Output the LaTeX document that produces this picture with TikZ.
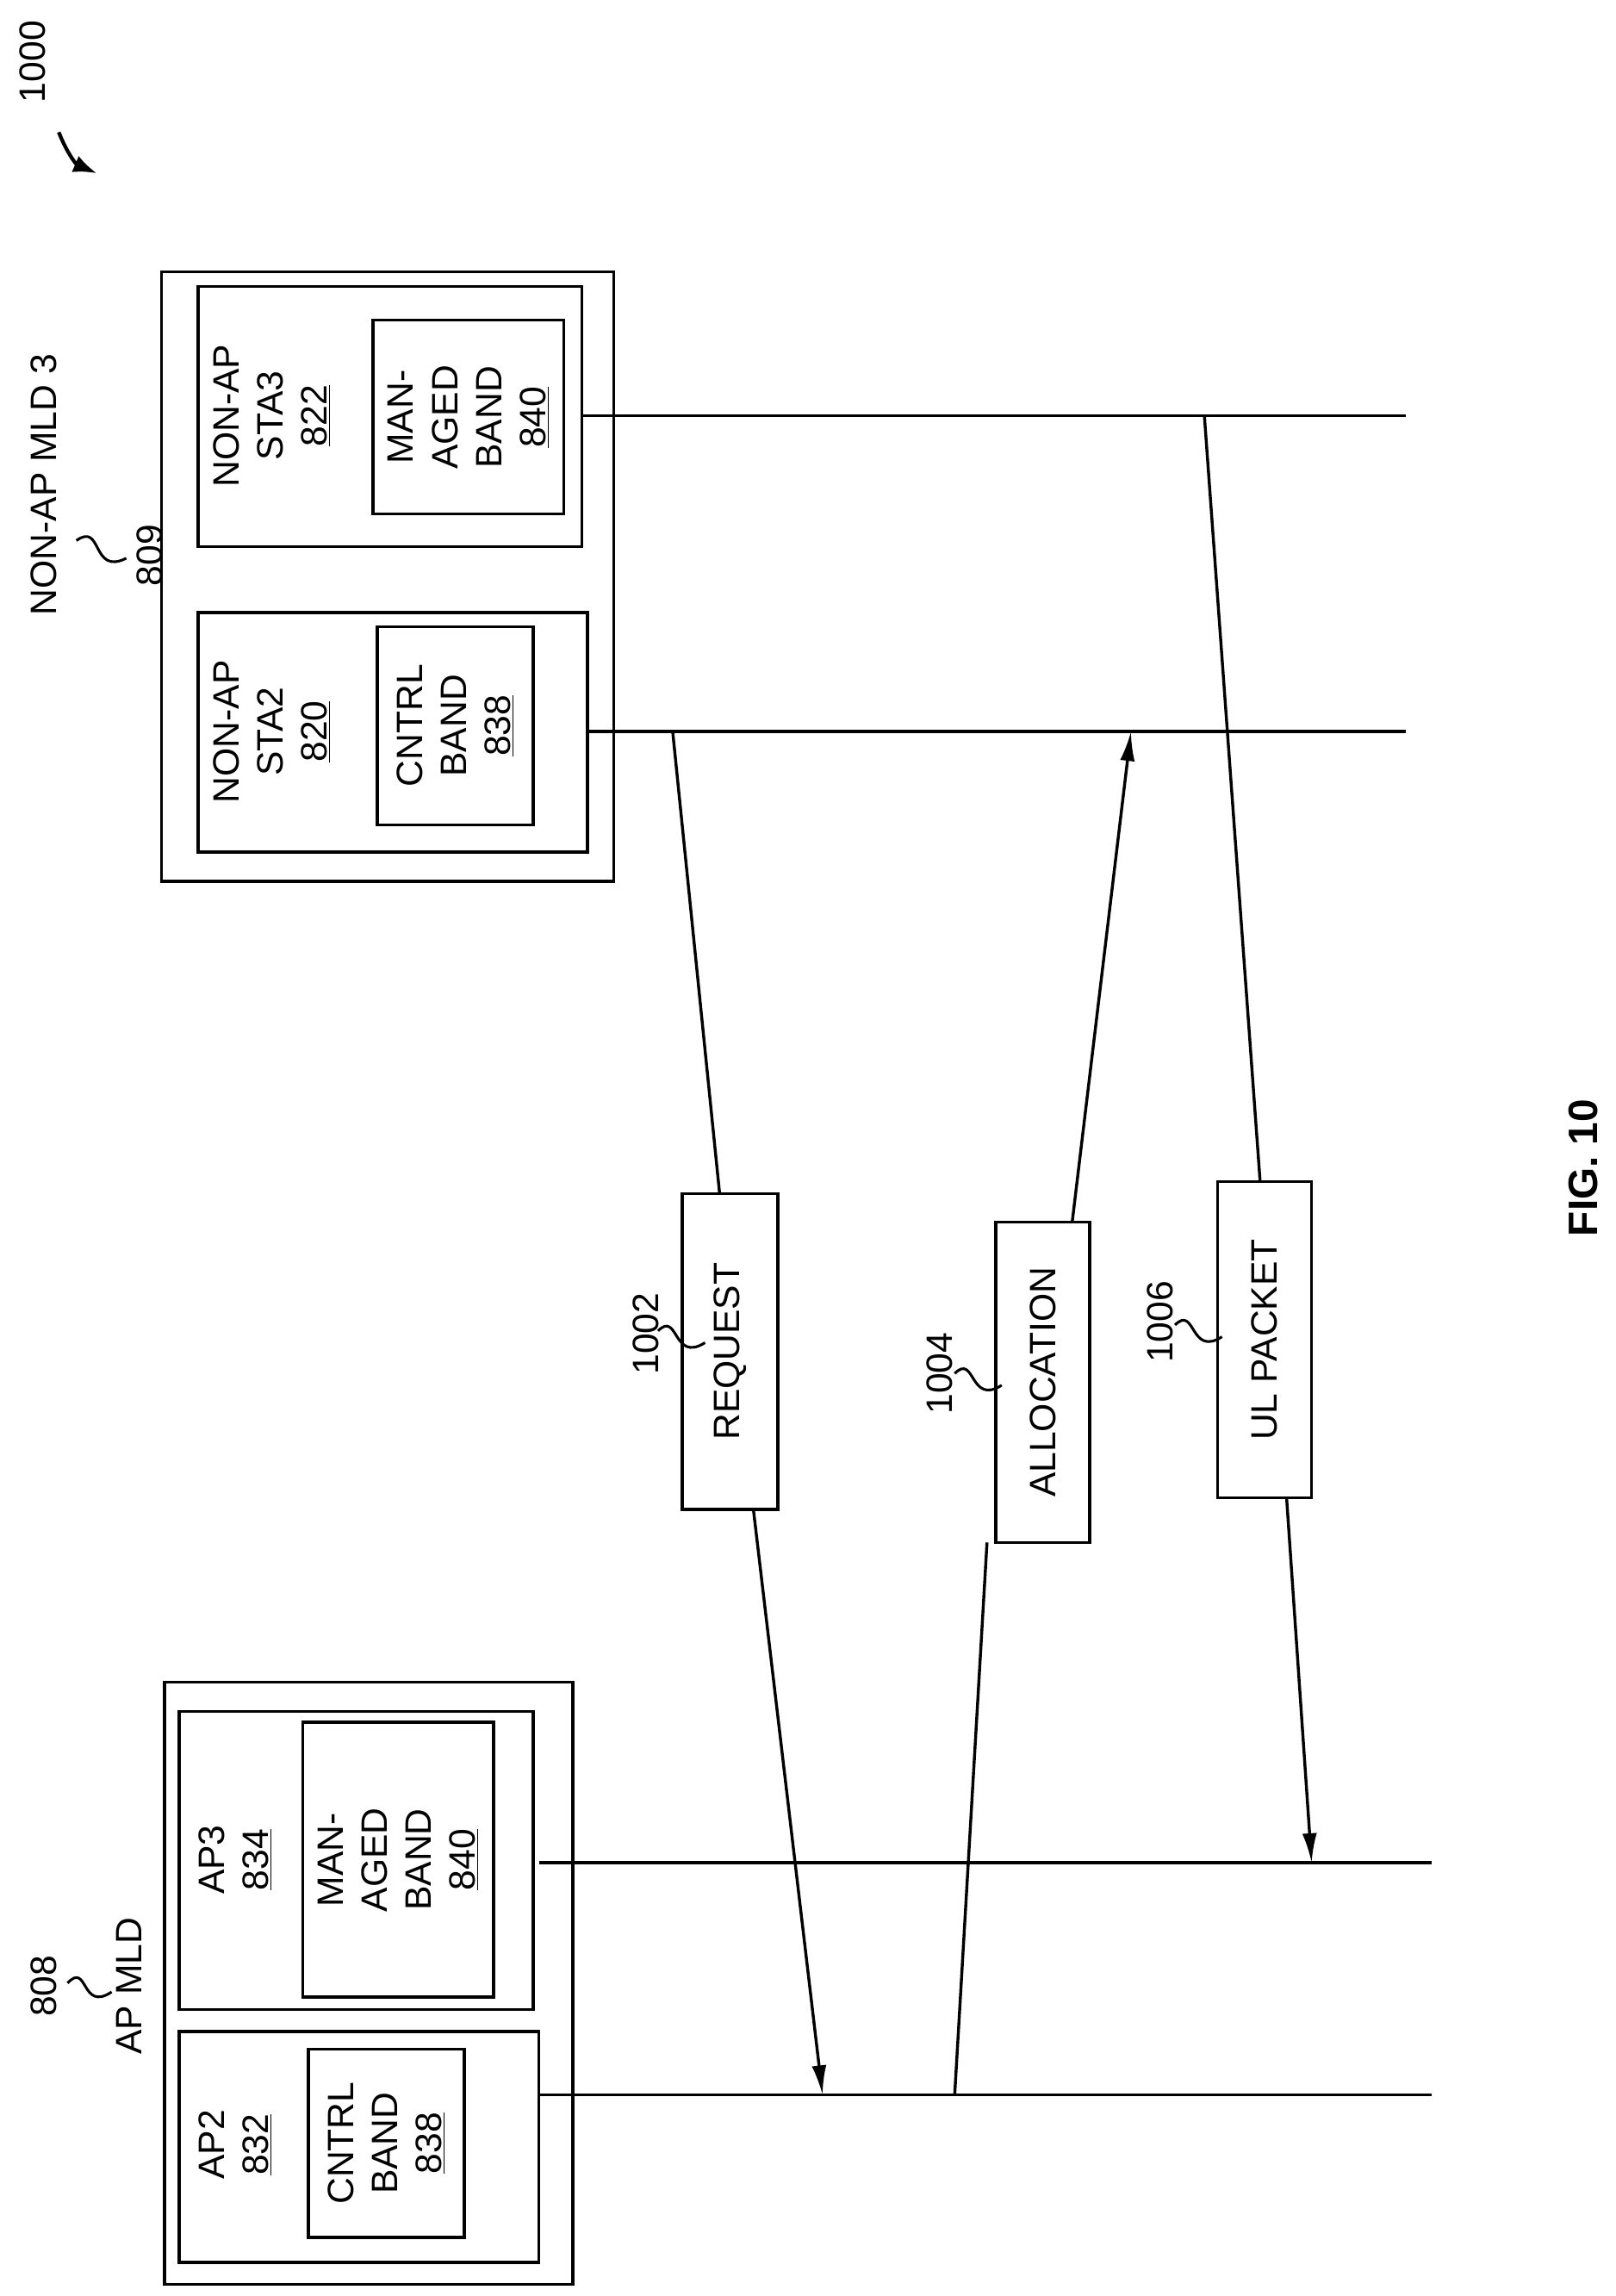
\documentclass[tikz,border=0pt]{standalone}
\usepackage{fontspec}
\setmainfont{Liberation Sans}
\usetikzlibrary{arrows.meta}
\begin{document}
\begin{tikzpicture}[x=1pt,y=-1pt,line width=2pt,
  txt/.style={rotate=90,align=center,font=\fontsize{25}{30}\selectfont},
  box/.style={draw,rotate=90,align=center,font=\fontsize{25}{30}\selectfont,inner sep=0pt},
  msg/.style={-{Latex[length=20pt,width=10pt]}},
  sq/.style={line width=1.8pt}]
\useasboundingbox (0,0) rectangle (1100,1563);
% AP MLD
\draw (112,1145) rectangle (390,1555);
\node[txt] (apmld) at (88,1352) {AP MLD};
\node[txt] (n808) at (30,1352) {808};
\draw[sq] (46,1350) .. controls (60,1335) and (55,1370) .. (76,1356);
\draw (122,1383) rectangle (367,1540);
\node[txt] (ap2) at (160,1460) {AP2\\\underline{832}};
\node[box,minimum width=128pt,minimum height=106pt] (cb1) at (263,1459) {CNTRL\\BAND\\\underline{838}};
\draw (122,1165) rectangle (363,1368);
\node[txt] (ap3) at (160,1266) {AP3\\\underline{834}};
\node[box,minimum width=187pt,minimum height=130pt] (mb1) at (271,1266) {MAN-\\AGED\\BAND\\\underline{840}};
\coordinate (a3s) at (367,1268); \coordinate (a3e) at (975,1268);
\coordinate (a2s) at (367,1426); \coordinate (a2e) at (975,1426);
\draw (a3s) -- (a3e); \draw (a2s) -- (a2e);
% NON-AP MLD 3
\draw (110,185) rectangle (418,600);
\node[txt] (nmld) at (30,330) {NON-AP MLD 3};
\node[txt] (n809) at (102,378) {809};
\draw[sq] (52,368) .. controls (70,355) and (62,392) .. (86,380);
\draw (135,195) rectangle (396,372);
\node[txt] (sta3) at (185,283) {NON-AP\\STA3\\\underline{822}};
\node[box,minimum width=132pt,minimum height=130pt] (mb2) at (319,284) {MAN-\\AGED\\BAND\\\underline{840}};
\draw (135,417) rectangle (400,580);
\node[txt] (sta2) at (185,498) {NON-AP\\STA2\\\underline{820}};
\node[box,minimum width=135pt,minimum height=106pt] (cb2) at (310,494) {CNTRL\\BAND\\\underline{838}};
\coordinate (s3s) at (396,283); \coordinate (s3e) at (957,283);
\coordinate (s2s) at (400,498); \coordinate (s2e) at (957,498);
\draw (s3s) -- (s3e); \draw (s2s) -- (s2e);
% messages
\node[box,minimum width=215pt,minimum height=65pt] (req) at (497,920) {REQUEST};
\node[box,minimum width=218pt,minimum height=64pt] (alo) at (710,941) {ALLOCATION};
\node[box,minimum width=215pt,minimum height=64pt] (ulp) at (861,912) {UL PACKET};
\coordinate (r0) at (458,498); \coordinate (r1) at (490,813);
\coordinate (r2) at (513,1028); \coordinate (r3) at (560,1426);
\draw (r0) -- (r1); \draw[msg] (r2) -- (r3);
\coordinate (l0) at (650,1426); \coordinate (l1) at (672,1050);
\coordinate (l2) at (730,832); \coordinate (l3) at (770,498);
\draw (l0) -- (l1); \draw[msg] (l2) -- (l3);
\coordinate (u0) at (820,283); \coordinate (u1) at (858,805);
\coordinate (u2) at (876,1020); \coordinate (u3) at (893,1268);
\draw (u0) -- (u1); \draw[msg] (u2) -- (u3);
\node[txt] (n1002) at (440,908) {1002};
\draw[sq] (448,906) .. controls (462,892) and (458,928) .. (480,914);
\node[txt] (n1004) at (640,935) {1004};
\draw[sq] (650,935) .. controls (664,921) and (660,957) .. (682,943);
\node[txt] (n1006) at (790,900) {1006};
\draw[sq] (800,902) .. controls (814,888) and (810,924) .. (832,910);
\node[txt,font=\bfseries\fontsize{28}{32}\selectfont] (fig) at (1078,795) {FIG. 10};
\node[txt] (n1000) at (22,42) {1000};
\draw[-{Latex[length=16pt,width=12pt]},line width=2.5pt] (40,90) .. controls (46,105) and (52,112) .. (66,118);
\end{tikzpicture}
\end{document}
